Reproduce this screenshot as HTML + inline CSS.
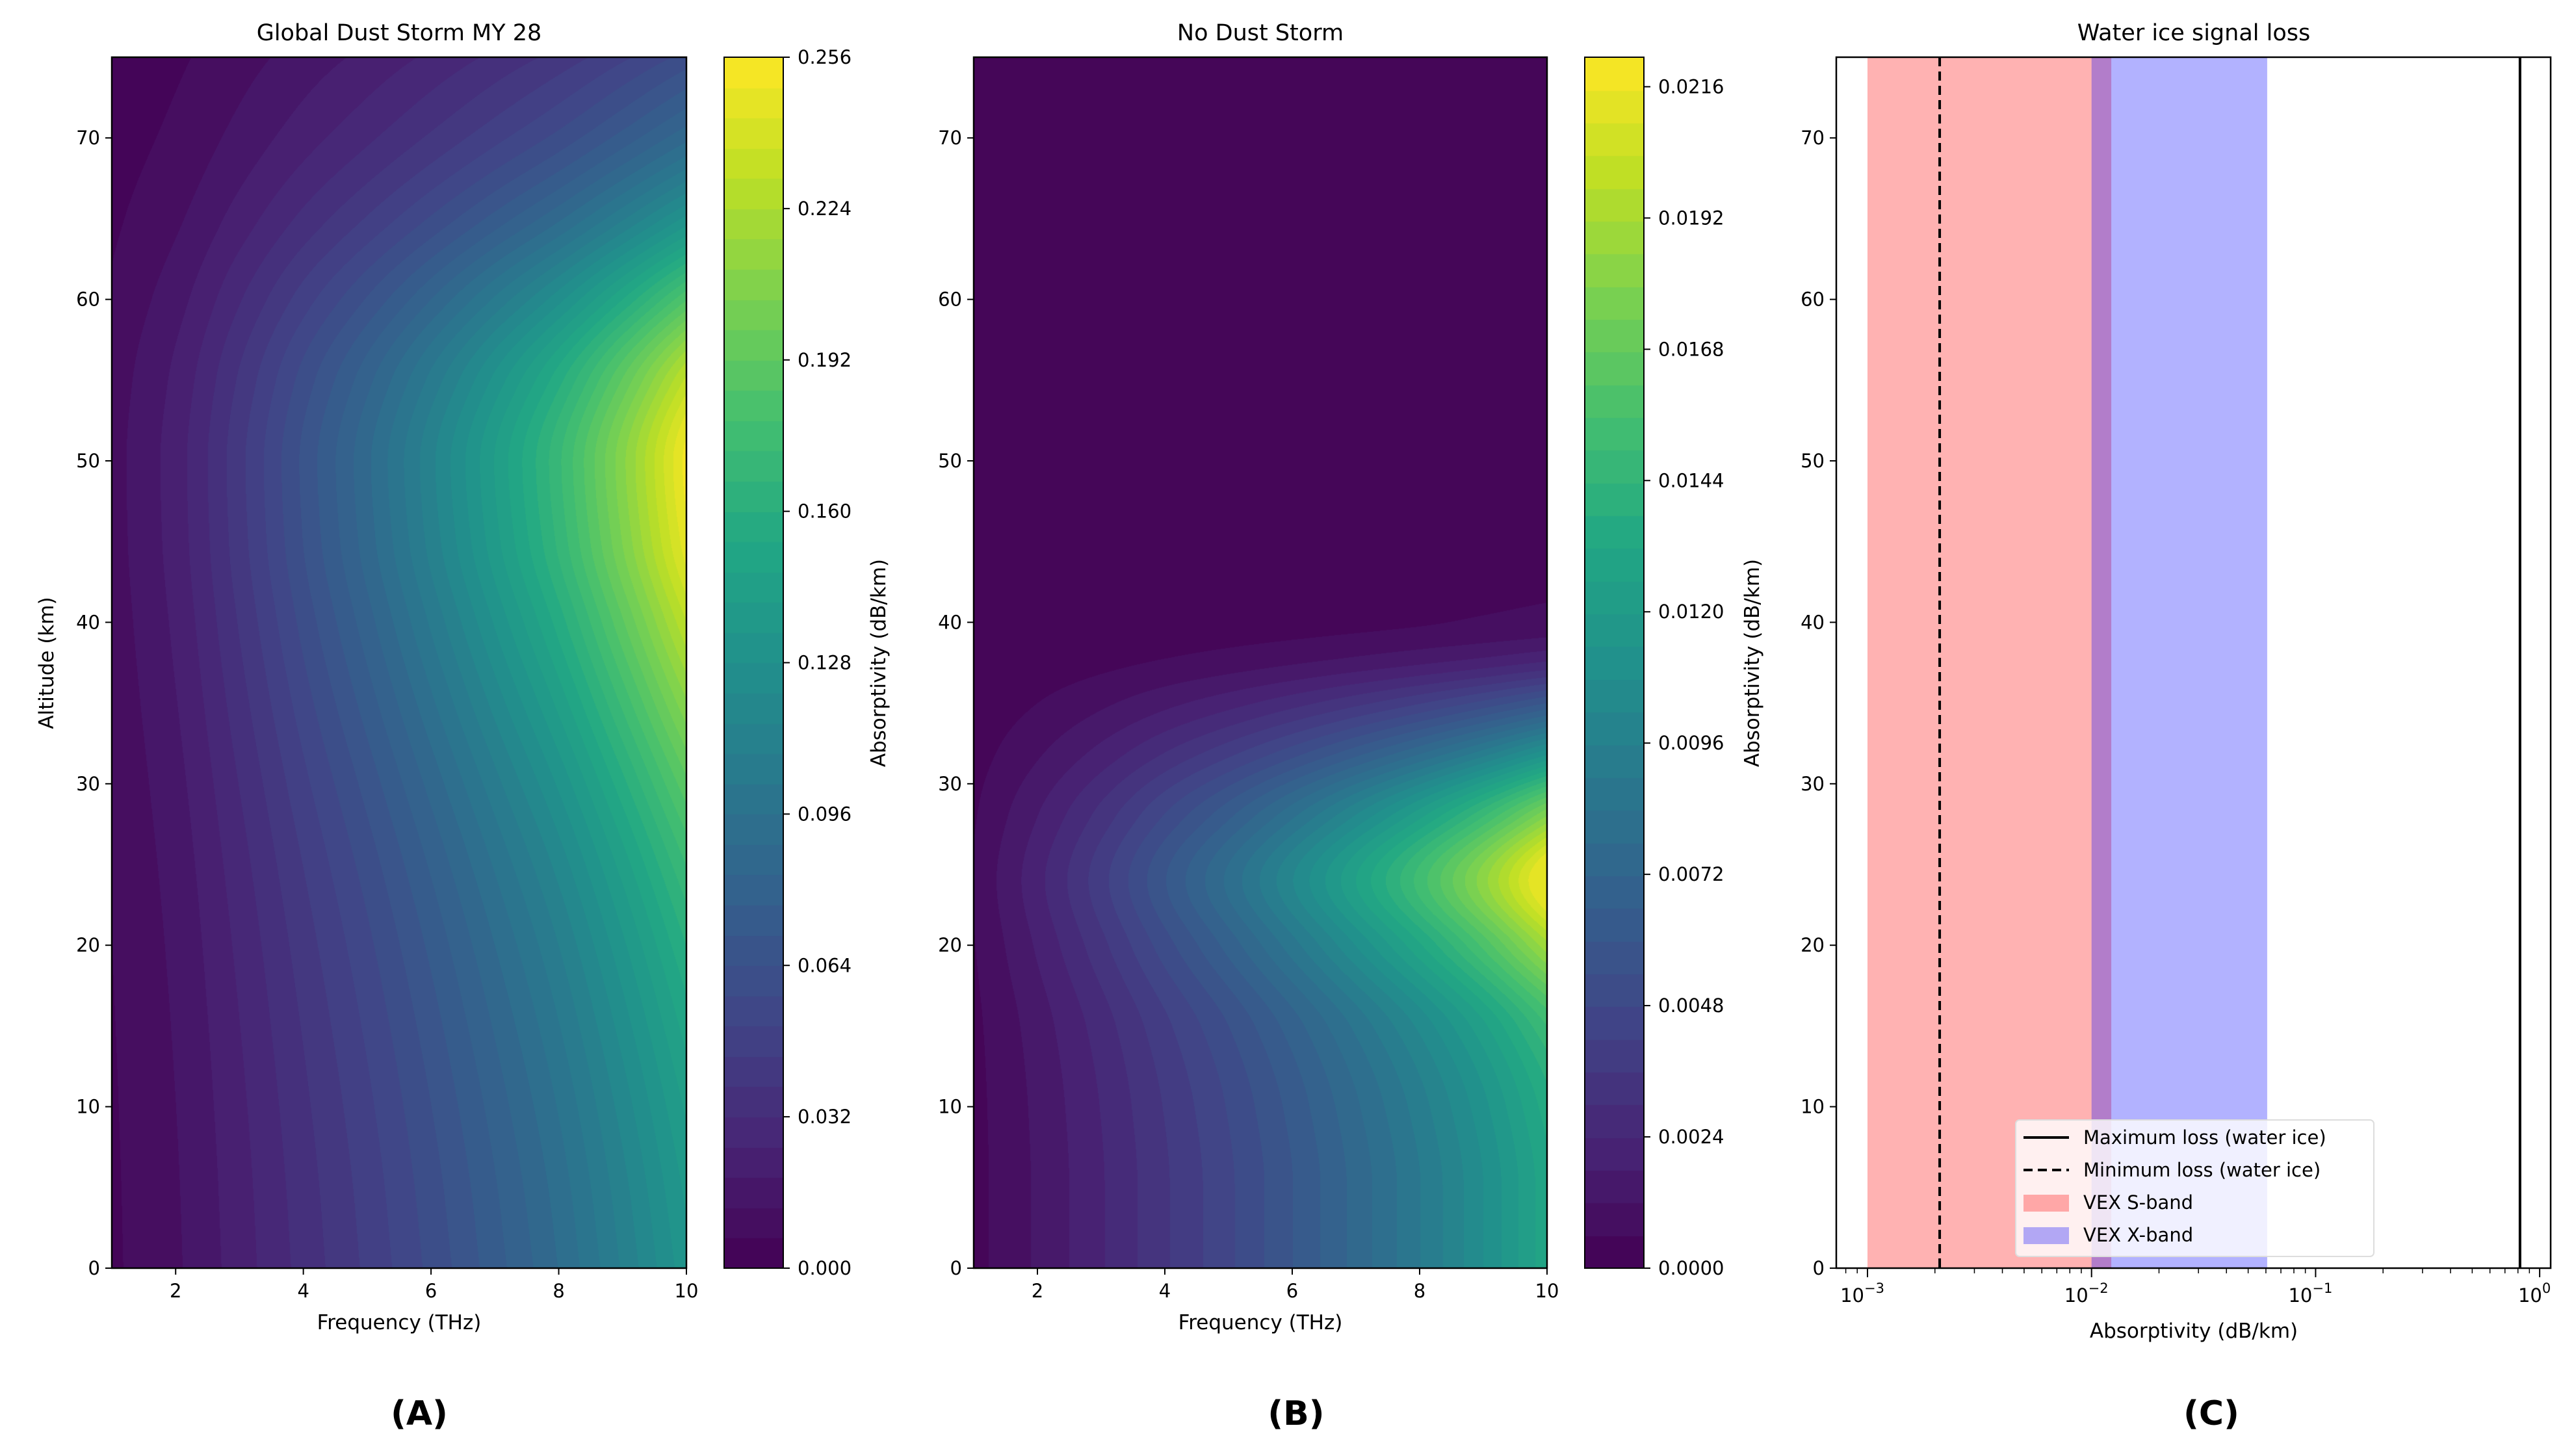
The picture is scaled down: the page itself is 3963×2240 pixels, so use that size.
<!DOCTYPE html>
<html><head><meta charset="utf-8">
<style>
html,body{margin:0;padding:0;background:#fff;}
#wrap{position:relative;width:3963px;height:2240px;overflow:hidden;font-family:"DejaVu Sans","Liberation Sans",sans-serif;}
canvas{position:absolute;}
svg{position:absolute;left:0;top:0;}
</style></head>
<body>
<div id="wrap">
<canvas id="cA" style="left:172px;top:88px" width="884" height="1863"></canvas>
<canvas id="cbA" style="left:1114px;top:88px" width="91" height="1863"></canvas>
<canvas id="cB" style="left:1498px;top:88px" width="882" height="1863"></canvas>
<canvas id="cbB" style="left:2438px;top:88px" width="91" height="1863"></canvas>
<svg id="s" width="3963" height="2240"></svg>
</div>
<script>
// ---- data ----
const freqs = [1,2,3,4,5,6,7,8,9,10];
const altsA = [0,5,10,15,20,25,30,35,40,45,50,55,60,65,70,75];
const profileA = [0.132,0.136,0.142,0.150,0.160,0.173,0.190,0.210,0.230,0.247,0.252,0.232,0.185,0.130,0.088,0.060];
const freqScaleA = [0.04,0.09,0.17,0.26,0.35,0.45,0.56,0.68,0.83,1.0];
const altsB = [0,5,10,15,20,24,28,32,35,38,40,45,50,60,75];
const profileB = [0.0130,0.0130,0.0135,0.0150,0.0190,0.0221,0.0180,0.0110,0.0060,0.0020,0.0008,0.0003,0.0002,0.0001,0.0001];
const freqScaleB = [0.03,0.10,0.18,0.27,0.36,0.46,0.57,0.69,0.83,1.0];
const cbTicksA = [0.000,0.032,0.064,0.096,0.128,0.160,0.192,0.224,0.256];
const cbTicksB = [0.0000,0.0024,0.0048,0.0072,0.0096,0.0120,0.0144,0.0168,0.0192,0.0216];
const xTicksF = [2,4,6,8,10];
const yTicksAlt = [0,10,20,30,40,50,60,70];
const sBand = [0.001,0.01225];
const xBand = [0.0100,0.0608];
const minLoss = 0.0021;
const maxLoss = 0.817;
const logTicks = [-3,-2,-1,0];

const vir=[[68,1,84],[72,36,117],[65,68,135],[53,95,141],[42,120,142],[33,145,140],[34,168,132],[68,191,112],[122,209,81],[189,223,38],[253,231,37]];
function viridis(t){t=Math.max(0,Math.min(1,t));const p=t*10,i=Math.min(9,Math.floor(p)),f=p-i;const a=vir[i],b=vir[i+1];return [a[0]+(b[0]-a[0])*f,a[1]+(b[1]-a[1])*f,a[2]+(b[2]-a[2])*f];}
// monotone cubic (Fritsch-Carlson) interpolation
function interp(xs,ys,x){
  const n=xs.length;if(x<=xs[0])return ys[0];if(x>=xs[n-1])return ys[n-1];
  let i=1;while(x>xs[i])i++;i--;
  const d=[];for(let k=0;k<n-1;k++)d.push((ys[k+1]-ys[k])/(xs[k+1]-xs[k]));
  const m=k=>{if(k===0)return d[0];if(k===n-1)return d[n-2];if(d[k-1]*d[k]<=0)return 0;const w1=2*(xs[k+1]-xs[k])+(xs[k]-xs[k-1]),w2=(xs[k+1]-xs[k])+2*(xs[k]-xs[k-1]);return (w1+w2)/(w1/d[k-1]+w2/d[k]);};
  const h=xs[i+1]-xs[i],t=(x-xs[i])/h,t2=t*t,t3=t2*t;
  return (2*t3-3*t2+1)*ys[i]+(t3-2*t2+t)*h*m(i)+(-2*t3+3*t2)*ys[i+1]+(t3-t2)*h*m(i+1);
}
function drawHeat(id,alts,prof,fs,vmax,step){
  const c=document.getElementById(id),ctx=c.getContext('2d'),W=c.width,H=c.height;
  const img=ctx.createImageData(W,H);
  const colCache={};
  const fcol=[];for(let x=0;x<W;x++)fcol.push(interp(freqs,fs,1+9*x/(W-1)));
  for(let y=0;y<H;y++){const alt=75-75*y/(H-1);const p=interp(alts,prof,alt);
    for(let x=0;x<W;x++){const v=Math.max(0,p*fcol[x]);
      let lv=Math.min(Math.floor(v/step),Math.floor(vmax/step)-1);
      let col=colCache[lv]||(colCache[lv]=viridis((lv+0.5)*step/vmax));
      const k=(y*W+x)*4;img.data[k]=col[0];img.data[k+1]=col[1];img.data[k+2]=col[2];img.data[k+3]=255;}}
  ctx.putImageData(img,0,0);
}
function drawCb(id,vmax,step){
  const c=document.getElementById(id),ctx=c.getContext('2d'),W=c.width,H=c.height;
  const n=Math.round(vmax/step);
  for(let i=0;i<n;i++){const col=viridis((i+0.5)/n);ctx.fillStyle=`rgb(${col[0]|0},${col[1]|0},${col[2]|0})`;
    const y0=H-H*(i+1)/n,y1=H-H*i/n;ctx.fillRect(0,Math.floor(y0),W,Math.ceil(y1-y0)+1);}
}
drawHeat('cA',altsA,profileA,freqScaleA,0.256,0.0064);
drawCb('cbA',0.256,0.0064);
drawHeat('cB',altsB,profileB,freqScaleB,0.02214,0.0006);
drawCb('cbB',0.02214,0.0006);

const S=document.getElementById('s');const NS='http://www.w3.org/2000/svg';
function el(tag,attrs,name,text){const e=document.createElementNS(NS,tag);for(const k in attrs)e.setAttribute(k,attrs[k]);
  
  
  if(text!==undefined)e.textContent=text;S.appendChild(e);return e;}
const T=88,B=1951;
const yAlt=a=>B-(B-T)*a/75;
function panel(x0,x1,title,ylab){
  const xf=f=>x0+(x1-x0)*(f-1)/9;
  el('rect',{x:x0,y:T,width:x1-x0,height:B-T,fill:'none',stroke:'#000','stroke-width':2.5},'plot-frame');
  xTicksF.forEach(f=>{el('line',{x1:xf(f),x2:xf(f),y1:B,y2:B+10,stroke:'#000','stroke-width':2},'x-tick');
    el('text',{x:xf(f),y:B+45,'font-size':29,'text-anchor':'middle'},'x-tick-label',String(f));});
  yTicksAlt.forEach(a=>{el('line',{x1:x0-10,x2:x0,y1:yAlt(a),y2:yAlt(a),stroke:'#000','stroke-width':2},'y-tick');
    el('text',{x:x0-18,y:yAlt(a)+10,'font-size':29,'text-anchor':'end'},'y-tick-label',String(a));});
  el('text',{x:(x0+x1)/2,y:62,'font-size':35,'text-anchor':'middle'},'panel-title',title);
  el('text',{x:(x0+x1)/2,y:2045,'font-size':31,'text-anchor':'middle'},'x-axis-title','Frequency (THz)');
  if(ylab)el('text',{x:0,y:0,'font-size':31,'text-anchor':'middle',transform:`translate(82,1020) rotate(-90)`},'y-axis-title','Altitude (km)');
}
function cbar(x0,x1,ticks,vmax,fmt,lx){
  el('rect',{x:x0,y:T,width:x1-x0,height:B-T,fill:'none',stroke:'#000','stroke-width':2},'colorbar-frame');
  ticks.forEach(v=>{const y=B-(B-T)*v/vmax;el('line',{x1:x1,x2:x1+10,y1:y,y2:y,stroke:'#000','stroke-width':2},'colorbar-tick');
    el('text',{x:x1+22,y:y+10,'font-size':29},'colorbar-tick-label',v.toFixed(fmt));});
  el('text',{x:0,y:0,'font-size':31,'text-anchor':'middle',transform:`translate(${lx},1020) rotate(-90)`},'colorbar-title','Absorptivity (dB/km)');
}
panel(172,1056,'Global Dust Storm MY 28',true);
cbar(1114,1205,cbTicksA,0.256,3,1362);
panel(1498,2380,'No Dust Storm',false);
cbar(2438,2529,cbTicksB,0.02214,4,2706);

// Panel C
const cx0=2825,cx1=3924,dec=344.7,ref=2873;
const xl=v=>ref+dec*(Math.log10(v)+3);
el('rect',{x:xl(sBand[0]),y:T,width:xl(sBand[1])-xl(sBand[0]),height:B-T,fill:'rgba(255,0,0,0.3)'},'s-band-span');
el('rect',{x:xl(xBand[0]),y:T,width:xl(xBand[1])-xl(xBand[0]),height:B-T,fill:'rgba(0,0,255,0.3)'},'x-band-span');
el('line',{x1:xl(minLoss),x2:xl(minLoss),y1:T,y2:B,stroke:'#000','stroke-width':4,'stroke-dasharray':'14,8'},'min-loss-line');
el('line',{x1:xl(maxLoss),x2:xl(maxLoss),y1:T,y2:B,stroke:'#000','stroke-width':4},'max-loss-line');
el('rect',{x:cx0,y:T,width:cx1-cx0,height:B-T,fill:'none',stroke:'#000','stroke-width':2.5},'plot-frame-c');
logTicks.forEach(e=>{const x=xl(Math.pow(10,e));el('line',{x1:x,x2:x,y1:B,y2:B+14,stroke:'#000','stroke-width':2},'x-major-tick');
  const t=el('text',{x:x-8,y:B+52,'font-size':29,'text-anchor':'middle'},'x-tick-label','10');
  const ts=document.createElementNS(NS,'tspan');ts.setAttribute('dy','-14');ts.setAttribute('font-size','21');ts.textContent=(e<0?'\u2212':'')+Math.abs(e);t.appendChild(ts);
  if(e<0)for(let m=2;m<10;m++){const xm=xl(m*Math.pow(10,e));el('line',{x1:xm,x2:xm,y1:B,y2:B+8,stroke:'#000','stroke-width':1.5},'x-minor-tick');}});
[0.0008,0.0009].forEach(v=>el('line',{x1:xl(v),x2:xl(v),y1:B,y2:B+8,stroke:'#000','stroke-width':1.5},'x-minor-tick'));
yTicksAlt.forEach(a=>{el('line',{x1:cx0-10,x2:cx0,y1:yAlt(a),y2:yAlt(a),stroke:'#000','stroke-width':2},'y-tick');
  el('text',{x:cx0-18,y:yAlt(a)+10,'font-size':29,'text-anchor':'end'},'y-tick-label',String(a));});
el('text',{x:3375,y:62,'font-size':35,'text-anchor':'middle'},'panel-title','Water ice signal loss');
el('text',{x:3375,y:2058,'font-size':31,'text-anchor':'middle'},'x-axis-title','Absorptivity (dB/km)');
// legend
el('rect',{x:3101,y:1723,width:551,height:210,fill:'rgba(255,255,255,0.8)',stroke:'#ddd','stroke-width':2,rx:6},'legend-box');
const lg=[['Maximum loss (water ice)','solid'],['Minimum loss (water ice)','dash'],['VEX S-band','red'],['VEX X-band','blue']];
lg.forEach((d,i)=>{const y=1750+i*50;
  if(d[1]==='solid')el('line',{x1:3113,x2:3183,y1:y,y2:y,stroke:'#000','stroke-width':4},'legend-swatch');
  else if(d[1]==='dash')el('line',{x1:3113,x2:3183,y1:y,y2:y,stroke:'#000','stroke-width':4,'stroke-dasharray':'14,8'},'legend-swatch');
  else el('rect',{x:3113,y:y-12,width:70,height:26,fill:d[1]==='red'?'rgba(255,0,0,0.3)':'rgba(0,0,255,0.3)'},'legend-swatch');
  el('text',{x:3205,y:y+10,'font-size':29},'legend-label',d[0]);});
// panel letters
[['(A)',645],['(B)',1994],['(C)',3402]].forEach(d=>el('text',{x:d[1],y:2192,'font-size':52,'font-weight':'bold','text-anchor':'middle'},'panel-letter',d[0]));
</script>
</body></html>
